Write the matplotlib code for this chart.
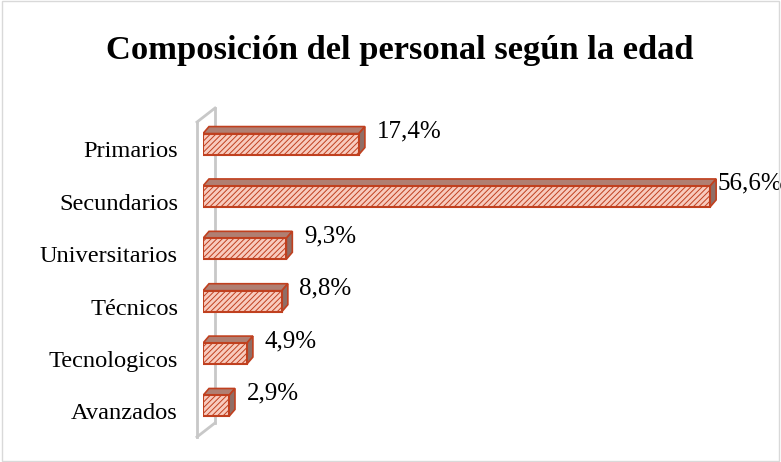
import matplotlib.pyplot as plt
from matplotlib.patches import Polygon, Rectangle
from matplotlib.lines import Line2D

categorias = ['Primarios', 'Secundarios', 'Universitarios', 'Técnicos', 'Tecnologicos', 'Avanzados']
valores = [17.4, 56.6, 9.3, 8.8, 4.9, 2.9]
etiquetas = ['17,4%', '56,6%', '9,3%', '8,8%', '4,9%', '2,9%']

plt.rcParams['font.family'] = ['Liberation Serif', 'DejaVu Serif']
plt.rcParams['hatch.color'] = '#E58A78'
plt.rcParams['hatch.linewidth'] = 0.7

fig = plt.figure(figsize=(7.81, 4.62), dpi=100)
# borde gris del grafico
fig.patches.append(Rectangle((0.002, 0.002), 0.996, 0.996, transform=fig.transFigure,
                             fill=False, edgecolor='#D9D9D9', linewidth=1))

px_x = 8.96   # pixeles por unidad en x
px_y = 52.4   # pixeles por categoria
ax = fig.add_axes([203 / 781, 22 / 462, 557 / 781, 330 / 462])
ax.set_xlim(0, 557 / px_x)
ax.set_ylim(5.65, -0.65)
ax.axis('off')

h = 0.4
dx = 6 / px_x
dy = -7 / px_y
borde = '#C0401F'

y = list(range(len(categorias)))
ax.barh(y, valores, height=h, color='#F8CBBE', edgecolor=borde, linewidth=1.5,
        hatch='//////', zorder=3)

for yi, v in zip(y, valores):
    y0 = yi - h / 2
    y1 = yi + h / 2
    arriba = Polygon([(0, y0), (v, y0), (v + dx, y0 + dy), (dx, y0 + dy)],
                     closed=True, facecolor='#B07F72', edgecolor=borde, linewidth=1.2, zorder=2)
    lado = Polygon([(v, y0), (v + dx, y0 + dy), (v + dx, y1 + dy), (v, y1)],
                   closed=True, facecolor='#8F6E66', edgecolor=borde, linewidth=1.2, zorder=2)
    ax.add_patch(arriba)
    ax.add_patch(lado)

# pared del eje (3D)
gris = '#C8C8C8'
def py(p):
    return (p - 144) / px_y
xf = -6 / px_x
xb = 12 / px_x
for xs, ys in [([xf, xf], [py(122), py(437)]),
               ([xb, xb], [py(108), py(423)]),
               ([xf, xb], [py(122), py(108)]),
               ([xf, xb], [py(437), py(423)])]:
    ax.add_line(Line2D(xs, ys, color=gris, linewidth=2, zorder=1, clip_on=False))

# etiquetas de valor (la mas larga se pega a la barra para que quepa)
for yi, v, t in zip(y, valores, etiquetas):
    xt = min(v + dx + 1.3, 57.4)
    ax.text(xt, yi - 0.24, t, fontsize=18, va='center', ha='left', clip_on=False)

for yi, c in zip(y, categorias):
    ax.text(-25 / px_x, yi + 0.15, c, fontsize=17.6, va='center', ha='right', clip_on=False)

fig.text(400 / 781, 1 - 51 / 462, 'Composición del personal según la edad',
         fontsize=24.8, fontweight='bold', ha='center', va='center')

fig.savefig('out.png', dpi=100)
